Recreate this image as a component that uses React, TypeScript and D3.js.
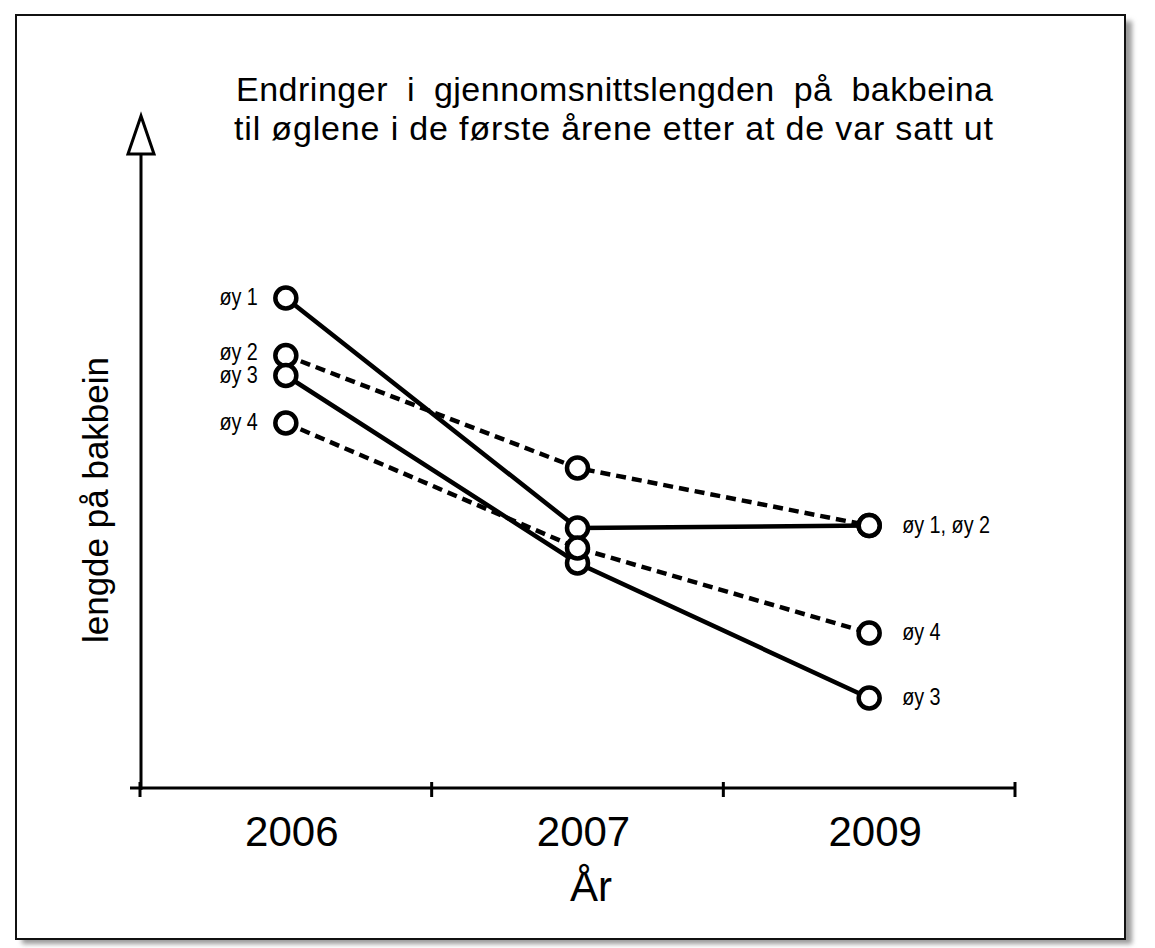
import * as d3 from "d3";
import { useEffect, useRef } from "react";

// år på x-aksen
const years = ["2006", "2007", "2009"];

// gjennomsnittlig lengde (vilkårlige enheter, lest av figuren)
const oy1 = [98, 52, 52.5];
const oy2 = [86.5, 64, 52.5];
const oy3 = [82.5, 45, 18];
const oy4 = [73, 48, 31];

const seriesNames = ["øy 1", "øy 2", "øy 3", "øy 4"];
const seriesDashed = [false, true, false, true];

// etiketter ved siste år: tekst + hvilken serie de hører til
const endLabels = ["øy 1, øy 2", "øy 4", "øy 3"];
const endLabelSeries = [0, 3, 2];

const titleLines = [
  "Endringer i gjennomsnittslengden på bakbeina",
  "til øglene i de første årene etter at de var satt ut",
];
const xTitle = "År";
const yTitle = "lengde på bakbein";

export default function App() {
  const svgRef = useRef<SVGSVGElement | null>(null);

  useEffect(() => {
    if (!svgRef.current) return;
    const font = "'Liberation Sans', Arial, sans-serif";
    const series = [oy1, oy2, oy3, oy4];

    const svg = d3.select(svgRef.current);
    svg.selectAll("*").remove();

    // ramme med skygge
    const defs = svg.append("defs");
    defs
      .append("filter")
      .attr("id", "shadow")
      .attr("x", "-5%")
      .attr("y", "-5%")
      .attr("width", "110%")
      .attr("height", "110%")
      .append("feGaussianBlur")
      .attr("stdDeviation", 2.5);

    svg
      .append("rect")
      .attr("x", 22)
      .attr("y", 21)
      .attr("width", 1110)
      .attr("height", 923)
      .attr("fill", "#9a9a9a")
      .attr("filter", "url(#shadow)");
    svg
      .append("rect")
      .attr("x", 16)
      .attr("y", 15)
      .attr("width", 1109)
      .attr("height", 924)
      .attr("fill", "#fff")
      .attr("stroke", "#111")
      .attr("stroke-width", 2);

    const x = d3.scaleBand<string>().domain(years).range([140, 1015]);
    const cx = (d: string) => (x(d) ?? 0) + x.bandwidth() / 2;
    const y = d3.scaleLinear().domain([0, 100]).range([788, 288]);

    const g = svg.append("g").attr("font-family", font).attr("fill", "#000");

    // tittel
    g.append("text")
      .attr("x", 236)
      .attr("y", 101)
      .attr("font-size", 34)
      .attr("word-spacing", 9)
      .attr("textLength", 757)
      .text(titleLines[0]);
    g.append("text")
      .attr("x", 234)
      .attr("y", 140)
      .attr("font-size", 34)
      .attr("textLength", 759)
      .text(titleLines[1]);

    // y-akse med pil
    g.append("line")
      .attr("x1", 141)
      .attr("x2", 141)
      .attr("y1", 154)
      .attr("y2", 790)
      .attr("stroke", "#000")
      .attr("stroke-width", 3);
    g.append("path")
      .attr("d", "M141,116 L128,154 L154,154 Z")
      .attr("fill", "#fff")
      .attr("stroke", "#000")
      .attr("stroke-width", 3);

    // x-akse
    const [x0, x1] = x.range();
    g.append("line")
      .attr("x1", x0 - 10)
      .attr("x2", x1)
      .attr("y1", y(0))
      .attr("y2", y(0))
      .attr("stroke", "#000")
      .attr("stroke-width", 3);
    const tickPos = years.map((d) => x(d) ?? 0).concat([x1]);
    g.selectAll("line.tick")
      .data(tickPos)
      .enter()
      .append("line")
      .attr("class", "tick")
      .attr("x1", (d) => d)
      .attr("x2", (d) => d)
      .attr("y1", y(0) - 6)
      .attr("y2", y(0) + 9)
      .attr("stroke", "#000")
      .attr("stroke-width", 3);

    g.selectAll("text.year")
      .data(years)
      .enter()
      .append("text")
      .attr("class", "year")
      .attr("x", (d) => cx(d) + 6)
      .attr("y", 846)
      .attr("text-anchor", "middle")
      .attr("font-size", 42)
      .text((d) => d);

    g.append("text")
      .attr("x", 591)
      .attr("y", 901)
      .attr("text-anchor", "middle")
      .attr("font-size", 42)
      .text(xTitle);

    g.append("text")
      .attr("transform", "translate(108,500) rotate(-90)")
      .attr("text-anchor", "middle")
      .attr("font-size", 35)
      .text(yTitle);

    // linjer
    const line = d3
      .line<number>()
      .x((_, i) => cx(years[i]))
      .y((v) => y(v));

    g.selectAll("path.series")
      .data(series)
      .enter()
      .append("path")
      .attr("class", "series")
      .attr("d", (d) => line(d))
      .attr("fill", "none")
      .attr("stroke", "#000")
      .attr("stroke-width", 4.5)
      .attr("stroke-dasharray", (_, i) => (seriesDashed[i] ? "10,6" : null));

    // punkter
    series.forEach((s) => {
      g.selectAll(null)
        .data(s)
        .enter()
        .append("circle")
        .attr("cx", (_, i) => cx(years[i]))
        .attr("cy", (v) => y(v))
        .attr("r", 10.5)
        .attr("fill", "#fff")
        .attr("stroke", "#000")
        .attr("stroke-width", 4.5);
    });

    // etiketter ved 2006 (skyv opp hvis de står for tett)
    const labelGap = 23;
    const startY = series.map((d) => y(d[0]) + 7);
    for (let i = startY.length - 2; i >= 0; i--) {
      if (startY[i + 1] - startY[i] < labelGap) startY[i] = startY[i + 1] - labelGap;
    }
    const labelSize = 23;
    const squeeze = 0.86;
    g.selectAll("text.start")
      .data(series)
      .enter()
      .append("text")
      .attr("class", "start")
      .attr(
        "transform",
        (_, i) =>
          `translate(${cx(years[0]) - 28},${startY[i]}) scale(${squeeze},1)`
      )
      .attr("text-anchor", "end")
      .attr("font-size", labelSize)
      .text((_, i) => seriesNames[i]);

    // etiketter ved 2009
    const last = years.length - 1;
    g.selectAll("text.end")
      .data(endLabels)
      .enter()
      .append("text")
      .attr("class", "end")
      .attr(
        "transform",
        (_, i) =>
          `translate(${cx(years[last]) + 33},${
            y(series[endLabelSeries[i]][last]) + 7
          }) scale(${squeeze},1)`
      )
      .attr("font-size", labelSize)
      .text((d) => d);
  }, []);

  return (
    <svg
      ref={svgRef}
      width={1155}
      height={948}
      viewBox="0 0 1155 948"
      style={{ position: "absolute", left: 0, top: 0, background: "#fff" }}
    />
  );
}
